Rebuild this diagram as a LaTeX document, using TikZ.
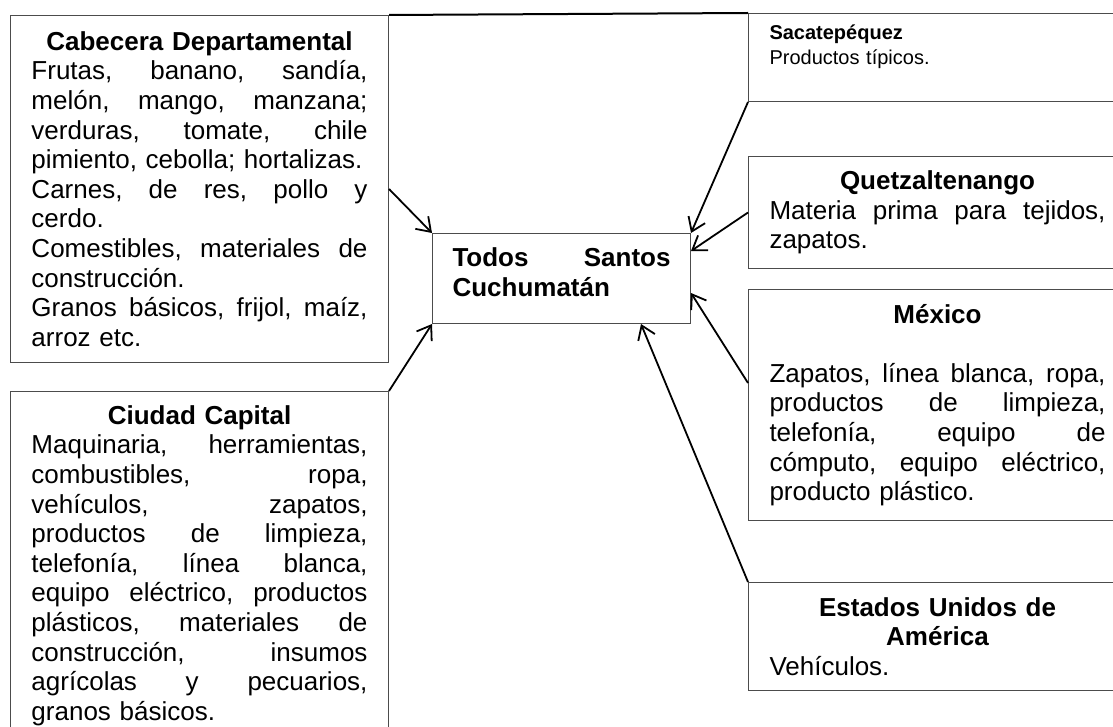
\documentclass[tikz,border=0pt]{standalone}
\usepackage{fontspec}
\setmainfont{Liberation Sans}
\usetikzlibrary{arrows.meta}

\newcommand{\lin}[1]{\makebox[\linewidth][s]{\frenchspacing\spaceskip=.278em plus 1fil\relax #1}}
\newcommand{\titulo}[1]{\makebox[\linewidth]{\bfseries #1}}

\begin{document}
\begin{tikzpicture}[x=0.5pt, y=-0.5pt,
  caja/.style = {draw=black!70, line width=0.5pt, anchor=north west,
    inner xsep=10.5pt, inner ysep=0pt, text width=168pt, align=left,
    font=\fontsize{13}{14.8}\selectfont},
  flecha/.style = {line width=0.9pt, -{Straight Barb[length=6.5pt,width=9pt]}}]
  \useasboundingbox (0,0) rectangle (1113,727);

  % origen de los productos
  \node[caja, minimum height=173.5pt] (cab) at (10,15) {\titulo{Cabecera Departamental}\\
    \lin{Frutas, banano, sandía,}\\ \lin{melón, mango, manzana;}\\
    \lin{verduras, tomate, chile}\\ pimiento, cebolla; hortalizas.\\
    \lin{Carnes, de res, pollo y}\\ cerdo.\\
    \lin{Comestibles, materiales de}\\ construcción.\\
    \lin{Granos básicos, frijol, maíz,}\\ arroz etc.};
  \node[caja, minimum height=174pt] (cc) at (10,391) {\titulo{Ciudad Capital}\\
    \lin{Maquinaria, herramientas,}\\ \lin{combustibles, ropa,}\\
    \lin{vehículos, zapatos,}\\ \lin{productos de limpieza,}\\
    \lin{telefonía, línea blanca,}\\ \lin{equipo eléctrico, productos}\\
    \lin{plásticos, materiales de}\\ \lin{construcción, insumos}\\
    \lin{agrícolas y pecuarios,}\\ granos básicos.};
  \node[caja, text width=109pt, inner xsep=10pt, minimum height=45pt,
    font=\fontsize{13}{15}\selectfont\bfseries] (centro) at (432,233)
    {\lin{Todos Santos}\\ Cuchumatán\rule[-6.5pt]{0pt}{0pt}};
  \node[caja, minimum height=44pt, font=\fontsize{10}{12.5}\selectfont] (sac) at (748,13)
    {\textbf{Sacatepéquez}\\ Productos típicos.\\ \mbox{}};
  \node[caja, minimum height=56pt] (quet) at (748,156) {\titulo{Quetzaltenango}\\
    \lin{Materia prima para tejidos,}\\ zapatos.};
  \node[caja, minimum height=115.5pt] (mex) at (748,289) {\titulo{México}\\ \mbox{}\\
    \lin{Zapatos, línea blanca, ropa,}\\ \lin{productos de limpieza,}\\
    \lin{telefonía, equipo de}\\ \lin{cómputo, equipo eléctrico,}\\
    producto plástico.};
  \node[caja, minimum height=54pt] (eu) at (748,582) {\titulo{Estados Unidos de}\\
    \titulo{América}\\ Vehículos.};

  \draw[line width=1pt] (cab.north east) -- (sac.north west);

  % flechas hacia Todos Santos
  \draw[flecha] (cab.east) -- (centro.north west);
  \draw[flecha] (cc.north east) -- (centro.south west);
  \draw[flecha] (sac.south west) -- (centro.north east);
  \draw[flecha] (quet.west) -- ([yshift=-9pt]centro.north east);
  \draw[flecha] ([yshift=11pt]mex.west) -- ([yshift=15.5pt]centro.south east);
  \draw[flecha] (eu.north west) -- ([xshift=-25pt]centro.south east);
\end{tikzpicture}
\end{document}
